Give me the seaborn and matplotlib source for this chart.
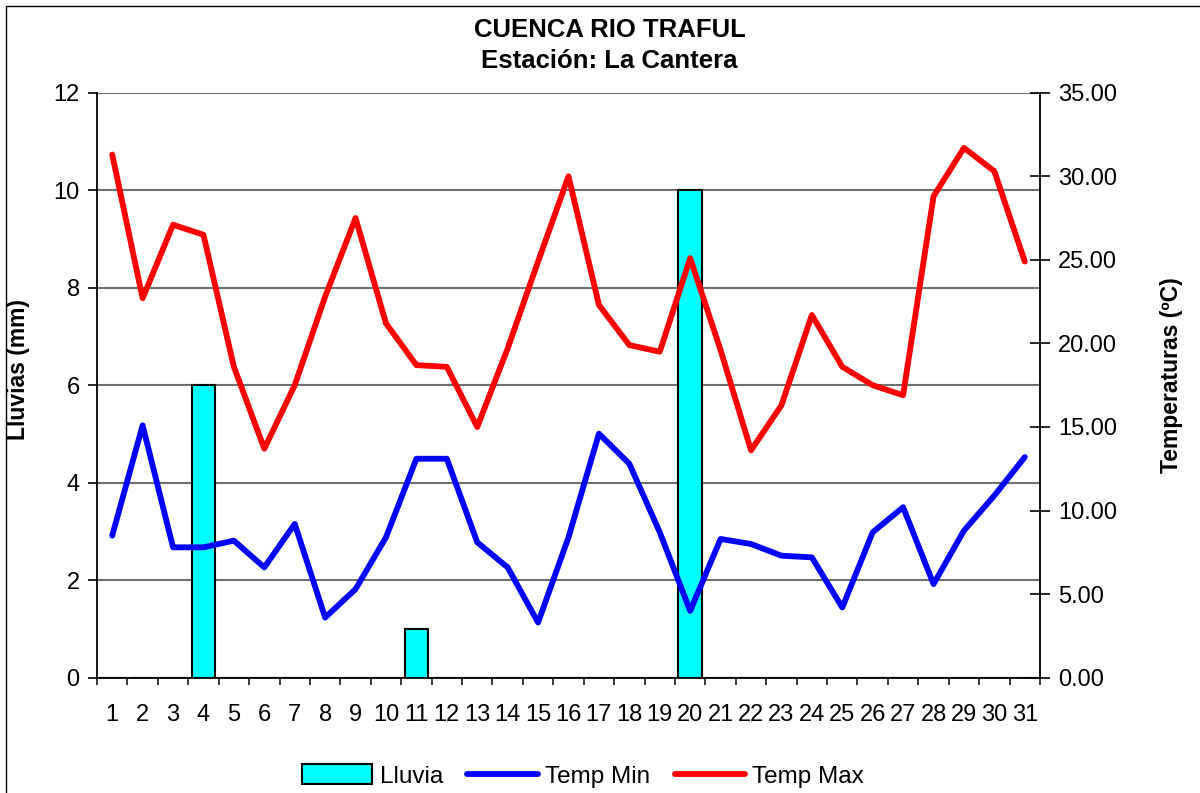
import numpy as np
import pandas as pd
import matplotlib
import matplotlib.pyplot as plt
import seaborn as sns
from matplotlib.patches import Rectangle
from matplotlib.ticker import FormatStrFormatter

matplotlib.use('Agg')

# Daily data for the month
dias = [1, 2, 3, 4, 5, 6, 7, 8, 9, 10, 11, 12, 13, 14, 15, 16,
        17, 18, 19, 20, 21, 22, 23, 24, 25, 26, 27, 28, 29, 30, 31]
lluvia = [0, 0, 0, 6, 0, 0, 0, 0, 0, 0, 1, 0, 0, 0, 0, 0,
          0, 0, 0, 10, 0, 0, 0, 0, 0, 0, 0, 0, 0, 0, 0]
temp_min = [8.5, 15.1, 7.8, 7.8, 8.2, 6.6, 9.2, 3.6, 5.3, 8.4, 13.1, 13.1, 8.1, 6.6, 3.3, 8.4,
            14.6, 12.8, 8.7, 4.0, 8.3, 8.0, 7.3, 7.2, 4.2, 8.7, 10.2, 5.6, 8.8, 10.9, 13.2]
temp_max = [31.3, 22.7, 27.1, 26.5, 18.6, 13.7, 17.5, 22.8, 27.5, 21.2, 18.7, 18.6, 15.0, 19.7, 24.9, 30.0,
            22.3, 19.9, 19.5, 25.1, 19.6, 13.6, 16.3, 21.7, 18.6, 17.5, 16.9, 28.8, 31.7, 30.3, 24.9]

titulo = 'CUENCA RIO TRAFUL'
subtitulo = 'Estación: La Cantera'


def main():
    sns.set_style('white', {'axes.labelcolor': 'black', 'text.color': 'black',
                            'xtick.color': 'black', 'ytick.color': 'black',
                            'axes.edgecolor': 'black'})
    plt.rcParams['font.family'] = ['Liberation Sans', 'DejaVu Sans']

    df = pd.DataFrame({'dia': dias, 'lluvia': lluvia, 'tmin': temp_min, 'tmax': temp_max})
    df['pos'] = df.index  # categorical position used by the bar axis

    fig = plt.figure(figsize=(12, 7.93), dpi=100)
    ax = fig.add_axes([97 / 1200, 1 - 677.7 / 793, 943 / 1200, 585 / 793])
    ax2 = ax.twinx()

    # Rain bars (left axis)
    sns.barplot(data=df, x='dia', y='lluvia', ax=ax, color='#00FFFF', saturation=1,
                width=0.78, edgecolor='black', linewidth=1.5, label='Lluvia')
    if ax.get_legend() is not None:
        ax.get_legend().remove()
    ax.set_axisbelow(True)

    # Temperatures (right axis)
    sns.lineplot(data=df, x='pos', y='tmin', ax=ax2, color='#0000FF', lw=4.2,
                 label='Temp Min', legend=False, solid_joinstyle='round', solid_capstyle='round')
    sns.lineplot(data=df, x='pos', y='tmax', ax=ax2, color='#FF0000', lw=4.2,
                 label='Temp Max', legend=False, solid_joinstyle='round', solid_capstyle='round')
    if ax2.get_legend() is not None:
        ax2.get_legend().remove()

    ax.set_xlim(-0.5, len(dias) - 0.5)
    ax.set_ylim(0, 12)
    ax2.set_ylim(0, 35)

    ax.set_xticks(df['pos'])
    ax.set_xticklabels(dias)
    ax.set_xticks(np.arange(-0.5, len(dias)), minor=True)
    ax.set_yticks(range(0, 13, 2))
    ax2.set_yticks(range(0, 36, 5))
    ax2.yaxis.set_major_formatter(FormatStrFormatter('%.2f'))

    ax.yaxis.grid(True, color='#707070', lw=1.5)
    ax.xaxis.grid(False)

    ax.tick_params(axis='x', which='major', bottom=True, length=0, pad=19, labelsize=17)
    ax.tick_params(axis='x', which='minor', bottom=True, length=5, width=1.1, direction='out', color='black')
    ax.tick_params(axis='y', left=True, length=6.5, width=1.2, direction='out', pad=6, labelsize=17)
    ax2.tick_params(axis='y', right=True, length=14, width=1.2, direction='inout', pad=6, labelsize=17)

    for side in ['top', 'right']:
        ax.spines[side].set_visible(False)
    for side in ['top', 'left', 'bottom']:
        ax2.spines[side].set_visible(False)
    for sp in [ax.spines['left'], ax.spines['bottom'], ax2.spines['right']]:
        sp.set_color('black')
        sp.set_linewidth(1.3)

    ax.set_xlabel('')
    ax2.set_xlabel('')
    ax.set_ylabel('Lluvias (mm)', fontsize=16.5, fontweight='bold')
    ax.yaxis.set_label_coords(-0.071, 0.526)
    ax2.set_ylabel('Temperaturas (ºC)', fontsize=16.5, fontweight='bold')
    ax2.yaxis.set_label_coords(1.127, 0.517)

    fig.text(0.508, 1 - 37 / 793, titulo, ha='center', va='baseline', fontsize=18.5, fontweight='bold')
    fig.text(0.508, 1 - 68.5 / 793, subtitulo, ha='center', va='baseline', fontsize=18.5, fontweight='bold')

    h1, l1 = ax.get_legend_handles_labels()
    h2, l2 = ax2.get_legend_handles_labels()
    fig.legend(h1 + h2, l1 + l2, loc='center', bbox_to_anchor=(583 / 1200, 1 - 776 / 793),
               ncol=3, frameon=False, fontsize=17.5, handlelength=2.9, handleheight=0.9,
               handletextpad=0.3, columnspacing=1.0)

    # chart area border
    top = 1 - 6 / 793
    fig.add_artist(Rectangle((6 / 1200, -0.05), 1.05, top + 0.05,
                             transform=fig.transFigure, fill=False, ec='black', lw=1))

    fig.savefig('out.png', dpi=100)
    plt.close(fig)


if __name__ == '__main__':
    main()
